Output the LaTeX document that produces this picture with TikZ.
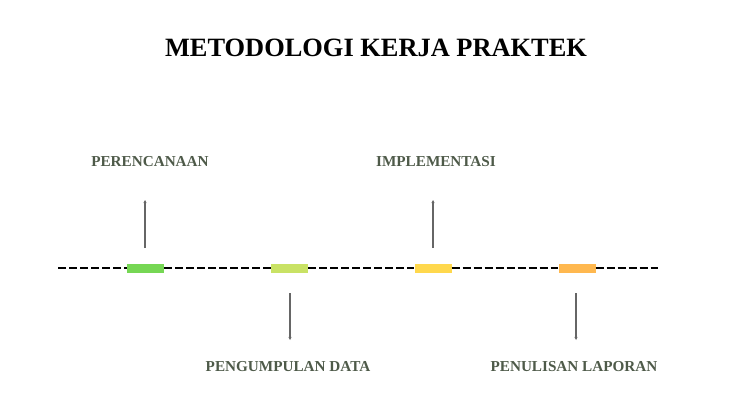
\documentclass[tikz,border=0pt]{standalone}
\usepackage{fontspec}
\setmainfont{Liberation Serif}
\usetikzlibrary{arrows.meta}
\definecolor{lbl}{HTML}{4E5A49}
\definecolor{cgreen}{HTML}{76D754}
\definecolor{clime}{HTML}{C9E265}
\definecolor{cyellow}{HTML}{FFD84D}
\definecolor{corange}{HTML}{FFB84F}
\begin{document}
\begin{tikzpicture}[x=1pt,y=-1pt,
  stage/.style={draw=none,minimum width=37pt,minimum height=9pt,inner sep=0pt},
  lab/.style={font=\fontsize{15.2}{16}\selectfont\bfseries,text=lbl,inner sep=0pt},
  pointer/.style={draw=black!60,line width=1.2pt,-{Stealth[length=3pt,width=3pt]}},
  timeline/.style={draw=black,line width=2pt,dash pattern=on 8pt off 3pt}]
\useasboundingbox (0,0) rectangle (738,415);
\node[font=\fontsize{26.4}{28}\selectfont\bfseries,inner sep=0pt] (title) at (376,48) {METODOLOGI KERJA PRAKTEK};
\coordinate (L) at (58,268);
\coordinate (R) at (658,268);
\node[stage,fill=cgreen] (s1) at (145.5,268) {};
\node[stage,fill=clime] (s2) at (289.5,268) {};
\node[stage,fill=cyellow] (s3) at (433,268) {};
\node[stage,fill=corange] (s4) at (577,268) {};
\draw[timeline] (L) -- (s1.west);
\draw[timeline] (s1.east) -- (s2.west);
\draw[timeline] (s2.east) -- (s3.west);
\draw[timeline] (s3.east) -- (s4.west);
\draw[timeline] (s4.east) -- (R);
\node[lab] (l1) at (150,162) {PERENCANAAN};
\node[lab] (l3) at (436,162) {IMPLEMENTASI};
\node[lab] (l2) at (288,367) {PENGUMPULAN DATA};
\node[lab] (l4) at (574,367) {PENULISAN LAPORAN};
\coordinate (a1s) at (145,248); \coordinate (a1e) at (145,200);
\coordinate (a3s) at (433,248); \coordinate (a3e) at (433,200);
\coordinate (a2s) at (290,293); \coordinate (a2e) at (290,340);
\coordinate (a4s) at (576,293); \coordinate (a4e) at (576,340);
\draw[pointer] (a1s) -- (a1e);
\draw[pointer] (a3s) -- (a3e);
\draw[pointer] (a2s) -- (a2e);
\draw[pointer] (a4s) -- (a4e);
\end{tikzpicture}
\end{document}
